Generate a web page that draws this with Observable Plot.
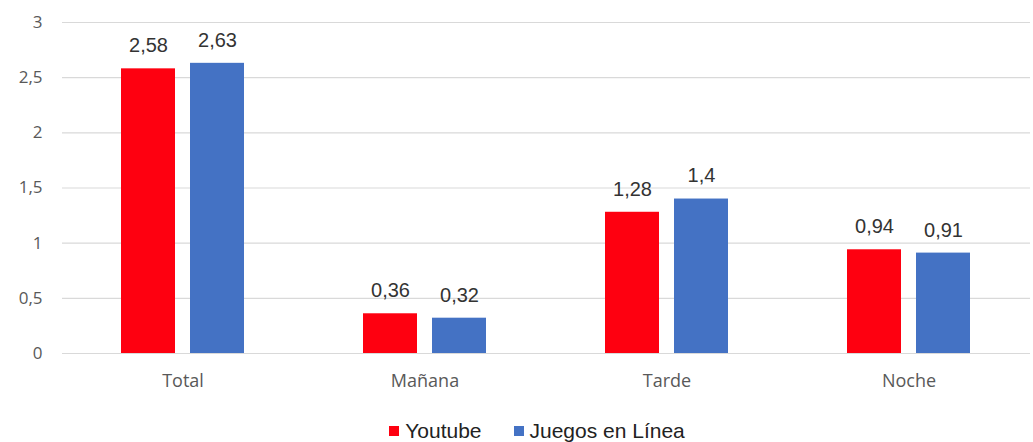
<!DOCTYPE html>
<html>
<head>
<meta charset="utf-8">
<script src="https://cdn.jsdelivr.net/npm/d3@7"></script>
<script src="https://cdn.jsdelivr.net/npm/@observablehq/plot@0.6"></script>
<style>
  body { margin: 0; background: #fff; font-family: "Open Sans", "Liberation Sans", sans-serif; }
  #legend { display: flex; justify-content: center; gap: 32px; font-family: "Liberation Sans", Arial, sans-serif; font-size: 21px; line-height: 24px; color: #222; margin-left: 41px; margin-top: 14px; }
  #legend span.item { display: flex; align-items: center; }
  #legend span.sw { display: inline-block; width: 10px; height: 10px; margin-right: 6px; }
</style>
</head>
<body>
<div id="chart"></div>
<div id="legend"></div>
<script>
const categories = ["Total", "Mañana", "Tarde", "Noche"];
const series = ["Youtube", "Juegos en Línea"];
const youtube = [2.58, 0.36, 1.28, 0.94];
const juegos = [2.63, 0.32, 1.4, 0.91];
const yTicks = [0, 0.5, 1, 1.5, 2, 2.5, 3];
const colors = ["#fe0010", "#4472c4"];

const rows = [];
categories.forEach((c, i) => {
  rows.push({cat: c, serie: series[0], value: youtube[i]});
  rows.push({cat: c, serie: series[1], value: juegos[i]});
});
const fmt = v => String(v).replace(".", ",");
const yt = rows.filter(d => d.serie === series[0]);
const jg = rows.filter(d => d.serie === series[1]);

const chart = Plot.plot({
  width: 1033,
  height: 405,
  marginTop: 22,
  marginBottom: 52,
  marginLeft: 62,
  marginRight: 3,
  style: {fontFamily: "'Open Sans', 'Liberation Sans', sans-serif", fontSize: "17px", background: "#fff", color: "#595959"},
  x: {domain: categories, paddingInner: 0.49, paddingOuter: 0.245, label: null},
  y: {domain: [0, 3], label: null},
  color: {domain: series, range: colors},
  marks: [
    Plot.ruleY(yTicks, {stroke: "#d9d9d9", strokeWidth: 1.2}),
    Plot.axisY({ticks: yTicks, tickSize: 0, tickPadding: 20, tickFormat: fmt, fontSize: 17, fill: "#595959", label: null}),
    Plot.axisX({tickSize: 0, tickPadding: 21, fontSize: 18, fill: "#595959", label: null}),
    Plot.barY(yt, {x: "cat", y: "value", fill: "serie", insetRight: 69}),
    Plot.barY(jg, {x: "cat", y: "value", fill: "serie", insetLeft: 69}),
    Plot.text(yt, {x: "cat", y: "value", text: d => fmt(d.value), dx: -34.5, dy: -23, fontSize: 20, fill: "#333", fontFamily: "'Liberation Sans', Arial, sans-serif"}),
    Plot.text(jg, {x: "cat", y: "value", text: d => fmt(d.value), dx: 34.5, dy: -23, fontSize: 20, fill: "#333", fontFamily: "'Liberation Sans', Arial, sans-serif"})
  ]
});
document.getElementById("chart").appendChild(chart);

const legend = document.getElementById("legend");
series.forEach((s, i) => {
  const item = document.createElement("span");
  item.className = "item";
  const sw = document.createElement("span");
  sw.className = "sw";
  sw.style.background = colors[i];
  item.appendChild(sw);
  item.appendChild(document.createTextNode(s));
  legend.appendChild(item);
});
</script>
</body>
</html>
